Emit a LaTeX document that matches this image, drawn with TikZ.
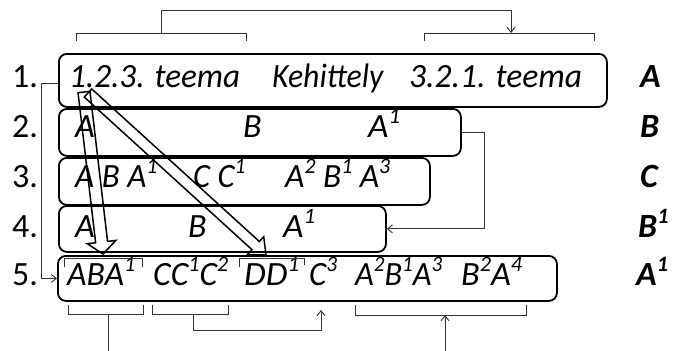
\documentclass[tikz,border=0pt]{standalone}
\usepackage{fontspec}
\usepackage{graphicx}
\setmainfont{Carlito}
\usetikzlibrary{arrows.meta}
\newcommand\sups[1]{\raisebox{0.40em}{\fontsize{22}{22}\selectfont #1}}
\newcommand\fitw[2]{\resizebox{#1pt}{\height}{#2}}
\begin{document}
\begin{tikzpicture}[x=1pt,y=-1pt,
  rowbox/.style={draw, line width=1.8pt, rounded corners=8pt, anchor=north west, inner sep=0pt},
  txt/.style={anchor=base west, inner sep=0pt, font=\fontsize{34}{40}\selectfont\itshape},
  lbl/.style={anchor=base west, inner sep=0pt, font=\fontsize{34}{40}\selectfont},
  rlbl/.style={anchor=base west, inner sep=0pt, font=\fontsize{34}{40}\selectfont\bfseries\itshape},
  conn/.style={draw=black!80, line width=0.9pt},
  tipped/.style={conn, -{Straight Barb[length=5pt,width=8pt]}},
  bigarrow/.style={draw, line width=1.5pt, line join=miter}
]
\useasboundingbox (0,0) rectangle (673,351);

% row boxes
\node[rowbox, minimum width=548pt, minimum height=53pt] (r1) at (58,53) {};
\node[rowbox, minimum width=402pt, minimum height=47pt] (r2) at (58,108) {};
\node[rowbox, minimum width=371pt, minimum height=47pt] (r3) at (58,157) {};
\node[rowbox, minimum width=327pt, minimum height=46pt] (r4) at (58,205) {};
\node[rowbox, minimum width=499pt, minimum height=45pt] (r5) at (57,255) {};

% row labels
\node[lbl] (n1) at (12,87) {1.};
\node[lbl] (n2) at (12,137) {2.};
\node[lbl] (n3) at (12,187) {3.};
\node[lbl] (n4) at (12,237) {4.};
\node[lbl] (n5) at (12,285) {5.};

% right labels
\node[rlbl] (s1) at (640,87) {A};
\node[rlbl] (s2) at (640,137) {B};
\node[rlbl] (s3) at (640,187) {C};
\node[rlbl] (s4) at (638,237) {B\sups{1}};
\node[rlbl] (s5) at (636,285) {A\sups{1}};

% row 1
\node[txt] (t1a) at (69,87) {\fitw{171}{1.2.3. teema}};
\node[txt] (t1b) at (272,87) {\fitw{111}{Kehittely}};
\node[txt] (t1c) at (409,87) {\fitw{173}{3.2.1. teema}};
% row 2
\node[txt] (t2a) at (75,137) {A};
\node[txt] (t2b) at (243,137) {B};
\node[txt] (t2c) at (368,137) {\fitw{32}{A\sups{1}}};
% row 3
\node[txt] (t3a) at (75,187) {\fitw{82}{A B A\sups{1}}};
\node[txt] (t3b) at (193,187) {\fitw{52}{C C\sups{1}}};
\node[txt] (t3c) at (285,187) {\fitw{105}{A\sups{2} B\sups{1} A\sups{3}}};
% row 4
\node[txt] (t4a) at (75,237) {A};
\node[txt] (t4b) at (188,237) {B};
\node[txt] (t4c) at (283,237) {\fitw{32}{A\sups{1}}};
% row 5
\node[txt] (t5a) at (67,285) {\fitw{68}{ABA\sups{1}}};
\node[txt] (t5b) at (153,285) {\fitw{75}{CC\sups{1}C\sups{2}}};
\node[txt] (t5c) at (244,285) {\fitw{55}{DD\sups{1}}};
\node[txt] (t5d) at (309,285) {\fitw{28}{C\sups{3}}};
\node[txt] (t5e) at (355,285) {\fitw{87}{A\sups{2}B\sups{1}A\sups{3}}};
\node[txt] (t5f) at (461,285) {\fitw{61}{B\sups{2}A\sups{4}}};

% side connectors
\draw[tipped] ([yshift=-3pt]r1.west) -- ++(-17,0) |- (r5.west);
\draw[tipped] (r2.east) -- ++(23,0) |- (r4.east);

% top brackets
\coordinate (bl) at (161,33);
\coordinate (br) at (511,33);
\draw[conn] (76,41) -- (76,33) -- (246,33) -- (246,41);
\draw[conn] (424,41) -- (424,33) -- (594,33) -- (594,41);
\draw[tipped] (bl) -- (161,10) -| (br);

% small brackets in row 5
\draw[conn, line width=0.7pt] (64,267) -- (64,258) -- (142,258) -- (142,267);
\draw[conn, line width=0.7pt] (239,267) -- (239,258) -- (304,258) -- (304,265);

% bottom brackets
\coordinate (c1) at (108,314);
\coordinate (c2) at (193,314);
\coordinate (c3) at (445,315);
\coordinate (e1) at (108,351);
\coordinate (e3) at (445,351);
\coordinate (a2) at (321,310);
\draw[conn] (68,305) -- (68,314) -- (143,314) -- (143,305);
\draw[conn] (152,305) -- (152,314) -- (228,314) -- (228,305);
\draw[conn] (355,305) -- (355,315) -- (526,315) -- (526,305);
\draw[conn] (c1) -- (e1);
\draw[tipped] (c2) -- (193,330) -| (a2);
\draw[tipped] (e3) -- (c3);

% big hollow arrows
\draw[bigarrow] (89.96,91.30) -- (107.56,241.38) -- (115.90,240.45) -- (103,254)
  -- (87.30,243.71) -- (95.64,242.78) -- (78.04,92.70) -- cycle;
\draw[bigarrow] (91.70,88.93) -- (259.35,241.51) -- (263.73,236.71) -- (266,255)
  -- (247.57,254.45) -- (251.95,249.65) -- (84.30,97.07) -- cycle;
\end{tikzpicture}
\end{document}
